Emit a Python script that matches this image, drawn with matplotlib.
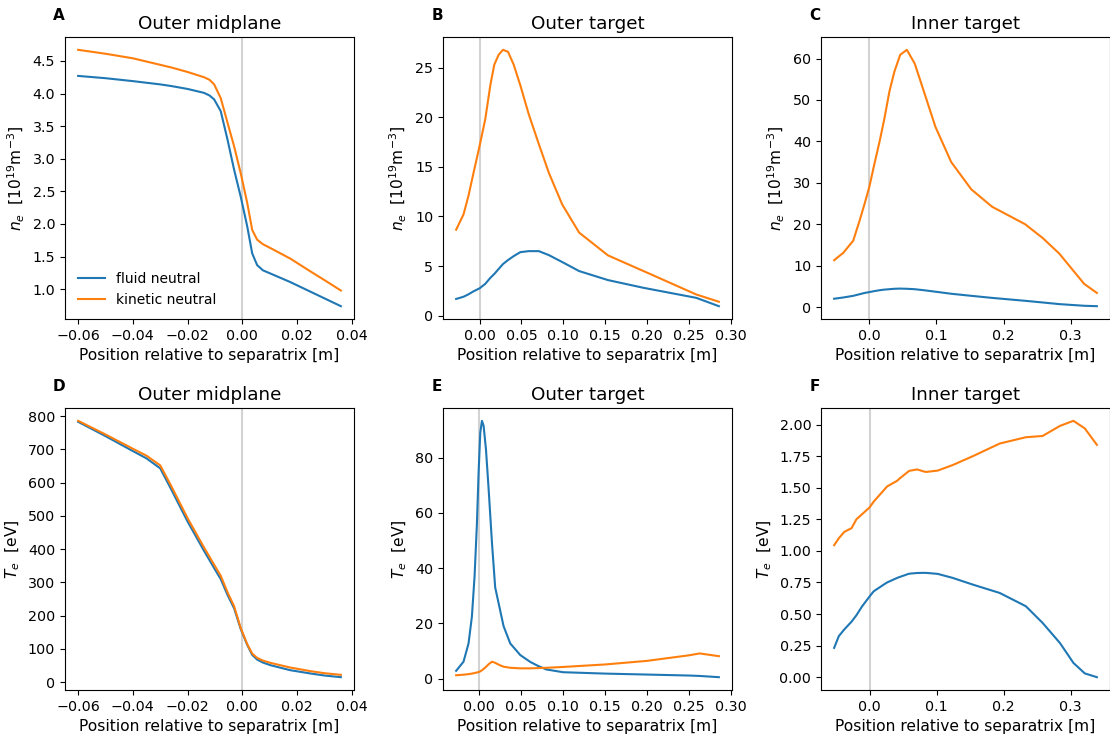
import matplotlib
matplotlib.use("Agg")
import matplotlib.pyplot as plt
from matplotlib.ticker import MultipleLocator

# outer midplane (A, D)
omp_x = [-0.06, -0.05, -0.04, -0.035, -0.03, -0.026, -0.02, -0.014, -0.012, -0.0103, -0.0079,
         -0.0054, -0.003, -0.0006, 0.0018, 0.0036, 0.0054, 0.0075, 0.0103, 0.0175, 0.025, 0.03, 0.036]
omp_ne_fluid = [4.27, 4.235, 4.19, 4.165, 4.14, 4.115, 4.07, 4.01, 3.97, 3.91, 3.73,
                3.29, 2.83, 2.42, 1.96, 1.55, 1.37, 1.29, 1.24, 1.11, 0.96, 0.86, 0.74]
omp_ne_kinetic = [4.67, 4.61, 4.54, 4.49, 4.44, 4.40, 4.33, 4.25, 4.21, 4.14, 3.93,
                  3.55, 3.19, 2.78, 2.32, 1.91, 1.76, 1.69, 1.63, 1.47, 1.27, 1.14, 0.98]
omp_te_fluid = [783, 740, 695, 673, 643, 580, 483, 395, 367, 343, 310,
                262, 222, 160, 112, 82, 68, 59, 51, 36, 26, 20, 15]
omp_te_kinetic = [786, 745, 702, 681, 652, 590, 493, 405, 377, 353, 320,
                  270, 228, 163, 114, 86, 73, 65, 58, 44, 33, 27, 22]

# outer target (B, E)
ot_ne_x = [-0.028, -0.0192, -0.0132, -0.0072, 0.0, 0.0068, 0.0128, 0.0176, 0.0228, 0.028,
           0.034, 0.0408, 0.0488, 0.0588, 0.0708, 0.0828, 0.0988, 0.119, 0.1535, 0.196,
           0.259, 0.286]
ot_ne_fluid = [1.68, 1.9, 2.15, 2.45, 2.75, 3.2, 3.8, 4.2, 4.7, 5.2,
               5.6, 6.0, 6.4, 6.5, 6.5, 6.1, 5.4, 4.49, 3.58, 2.8,
               1.79, 0.95]
ot_ne_kinetic = [8.66, 10.2, 12.1, 14.4, 17.1, 19.8, 23.2, 25.3, 26.3, 26.8,
                 26.6, 25.3, 23.2, 20.3, 17.3, 14.4, 11.2, 8.37, 6.07, 4.49,
                 2.13, 1.4]
ot_te_x = [-0.0276, -0.0188, -0.0128, -0.0088, -0.0056, -0.0028, -0.0008, 0.0012, 0.0032,
           0.0052, 0.008, 0.0112, 0.0152, 0.019, 0.024, 0.029, 0.037, 0.049, 0.061,
           0.07, 0.08, 0.1, 0.15, 0.2, 0.25, 0.263, 0.286]
ot_te_fluid = [2.8, 6.1, 12.7, 22.4, 37.0, 56.0, 74.5, 89.0, 93.3,
               91.5, 83.0, 68.5, 49.0, 33.0, 26.0, 19.0, 12.7, 8.5, 6.0,
               4.6, 3.3, 2.3, 1.8, 1.45, 1.1, 0.95, 0.5]
ot_te_kinetic = [1.2, 1.4, 1.6, 1.8, 2.0, 2.2, 2.35, 2.6, 3.0,
                 3.5, 4.2, 5.2, 6.1, 5.7, 4.9, 4.3, 3.9, 3.7, 3.7,
                 3.8, 3.9, 4.2, 5.1, 6.4, 8.4, 9.1, 8.1]

# inner target (C, F)
it_ne_x = [-0.0524, -0.0387, -0.024, -0.0142, -0.0069, 0.0, 0.0078, 0.0152, 0.0225, 0.0299,
           0.0373, 0.046, 0.0559, 0.0676, 0.0814, 0.0985, 0.122, 0.152, 0.183, 0.232,
           0.258, 0.283, 0.32, 0.339]
it_ne_fluid = [2.0, 2.3, 2.7, 3.1, 3.4, 3.6, 3.85, 4.05, 4.2, 4.3,
               4.4, 4.45, 4.4, 4.3, 4.05, 3.7, 3.2, 2.7, 2.2, 1.5,
               1.1, 0.7, 0.3, 0.2]
it_ne_kinetic = [11.3, 13.1, 16.0, 21.0, 25.0, 29.0, 34.7, 39.9, 45.5, 52.0,
                 56.8, 60.9, 62.1, 58.8, 52.0, 43.5, 35.0, 28.4, 24.2, 20.0,
                 16.7, 12.9, 5.6, 3.4]
it_te_x = [-0.053, -0.046, -0.038, -0.027, -0.0198, -0.0114, 0.0, 0.006, 0.021, 0.026,
           0.041, 0.044, 0.058, 0.06, 0.071, 0.08, 0.084, 0.1015, 0.124, 0.154,
           0.194, 0.233, 0.258, 0.284, 0.304, 0.321, 0.339]
it_te_fluid = [0.232, 0.325, 0.377, 0.44, 0.49, 0.56, 0.64, 0.68, 0.733, 0.75,
               0.786, 0.792, 0.818, 0.82, 0.825, 0.826, 0.826, 0.818, 0.786, 0.733,
               0.667, 0.562, 0.43, 0.27, 0.113, 0.03, 0.0]
it_te_kinetic = [1.045, 1.10, 1.15, 1.18, 1.25, 1.29, 1.345, 1.39, 1.48, 1.51,
                 1.555, 1.57, 1.63, 1.635, 1.645, 1.63, 1.625, 1.636, 1.68, 1.75,
                 1.85, 1.90, 1.91, 1.99, 2.03, 1.97, 1.84]

titles = ["Outer midplane", "Outer target", "Inner target"]
letters = ["A", "B", "C", "D", "E", "F"]
ne_label = r"$n_e$  [$10^{19}$m$^{-3}$]"
te_label = r"$T_e$  [eV]"

panels = [
    (omp_x, omp_ne_fluid, omp_x, omp_ne_kinetic),
    (ot_ne_x, ot_ne_fluid, ot_ne_x, ot_ne_kinetic),
    (it_ne_x, it_ne_fluid, it_ne_x, it_ne_kinetic),
    (omp_x, omp_te_fluid, omp_x, omp_te_kinetic),
    (ot_te_x, ot_te_fluid, ot_te_x, ot_te_kinetic),
    (it_te_x, it_te_fluid, it_te_x, it_te_kinetic),
]

fig = plt.figure(figsize=(11.1, 7.38), dpi=100)
lefts = [65, 443, 821]
tops = [37, 408]
w, h = 289, 282

for i, (xf, fluid, xk, kinetic) in enumerate(panels):
    row, col = divmod(i, 3)
    ax = fig.add_axes([lefts[col] / 1110, 1 - (tops[row] + h) / 738, w / 1110, h / 738])
    ax.axvline(0, color="lightgrey", lw=1.5, zorder=0)
    ax.plot(xf, fluid, color="#1f77b4", lw=1.5, label="fluid neutral")
    ax.plot(xk, kinetic, color="#ff7f0e", lw=1.5, label="kinetic neutral")
    ax.set_title(titles[col], fontsize=13.2)
    ax.set_xlabel("Position relative to separatrix [m]", fontsize=11.2)
    ax.set_ylabel(ne_label if row == 0 else te_label, fontsize=11.2)
    ax.tick_params(labelsize=10.3)
    if col == 1:
        ax.xaxis.set_major_locator(MultipleLocator(0.05))
    ax.text(-0.02, 1.078, letters[i], transform=ax.transAxes, fontsize=11,
            fontweight="bold", va="center", ha="center")
    if i == 0:
        ax.legend(loc="lower left", frameon=False, fontsize=10)

fig.savefig("out.png", dpi=100)
